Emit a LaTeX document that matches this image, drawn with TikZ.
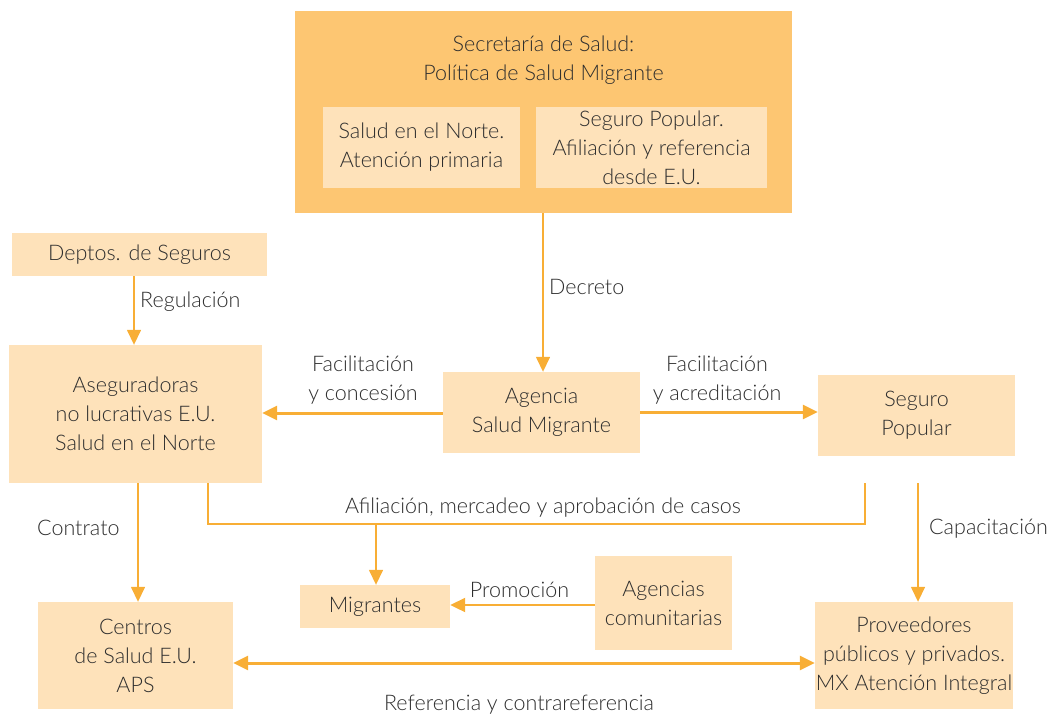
\documentclass[tikz,border=0pt]{standalone}
\usepackage{fontspec}
\setmainfont{Lato}[UprightFont=* Light]
\usetikzlibrary{arrows.meta}
\definecolor{darkbox}{HTML}{FDC672}
\definecolor{lightbox}{HTML}{FEE2BA}
\definecolor{linec}{HTML}{F8AE35}
\definecolor{txt}{HTML}{2E2E2E}
\begin{document}
\begin{tikzpicture}[x=1pt,y=-1pt,
  every node/.style={text=txt,font=\fontsize{21.5}{29}\selectfont,inner sep=0pt},
  box/.style={fill=lightbox,align=center},
  lab/.style={align=center},
  thinc/.style={draw=linec,line width=1.5pt},
  thickc/.style={draw=linec,line width=3pt},
  tip/.style={-{Triangle[length=15pt,width=14pt]}},
]
\useasboundingbox (0,0) rectangle (1051,716);
% top box
\node[fill=darkbox,minimum width=497pt,minimum height=202pt] (sec) at (543.5,112) {};
\node[lab] (sect) at (543.5,60) {Secretaría de Salud:\\Política de Salud Migrante};
\node[box,minimum width=197pt,minimum height=81pt] (in1) at (421.5,147.5) {Salud en el Norte.\\Atención primaria};
\node[box,minimum width=231pt,minimum height=81pt] (in2) at (651.5,147.5) {Seguro Popular.\\Afiliación y referencia\\desde E.U.};
% other boxes
\node[box,minimum width=255pt,minimum height=43pt] (dep) at (139.5,254.5) {Deptos. de Seguros};
\node[box,minimum width=253pt,minimum height=138pt] (ase) at (135.5,414) {Aseguradoras\\no lucrativas E.U.\\Salud en el Norte};
\node[box,minimum width=197pt,minimum height=81pt] (age) at (541.5,412.5) {Agencia\\Salud Migrante};
\node[box,minimum width=197pt,minimum height=81pt] (sp) at (916.5,415.5) {Seguro\\Popular};
\node[box,minimum width=195pt,minimum height=107pt] (cen) at (135.5,655.5) {Centros\\de Salud E.U.\\APS};
\node[box,minimum width=150pt,minimum height=43pt] (mig) at (375,606.5) {Migrantes};
\node[box,minimum width=137pt,minimum height=94pt] (com) at (663.5,603) {Agencias\\comunitarias};
\node[box,minimum width=198pt,minimum height=107pt] (pro) at (914,655.5) {Proveedores\\públicos y privados.\\MX Atención Integral};
% connectors
\draw[thinc,tip] (sec.south -| 543,0) -- (age.north -| 543,0);
\node[anchor=west] (ldec) at (549,287) {Decreto};
\draw[thinc,tip] (dep.south -| 134,0) -- (ase.north -| 134,0);
\node[anchor=west] (lreg) at (140,302) {Regulación};
\draw[thickc,tip] (age.west |- 0,413) -- (ase.east |- 0,413);
\node[lab] (lfc) at (363,380) {Facilitación\\y concesión};
\draw[thickc,tip] (age.east |- 0,412) -- (sp.west |- 0,412);
\node[lab] (lfa) at (717,380) {Facilitación\\y acreditación};
\draw[thinc,tip] (ase.south -| 138,0) -- (cen.north -| 138,0);
\node[anchor=west] (lcon) at (37,528) {Contrato};
\coordinate (c1) at (208,524);
\coordinate (c2) at (865,524);
\coordinate (c3) at (376,524);
\draw[thinc] (ase.south -| c1) -- (c1) -- (c2) -- ([yshift=-27pt]sp.south -| c2);
\draw[thinc,tip] (c3) -- (mig.north -| c3);
\node (laf) at (543,508) {Afiliación, mercadeo y aprobación de casos};
\draw[thinc,tip] ([yshift=-27pt]sp.south -| 918,0) -- (pro.north -| 918,0);
\node[anchor=west] (lcap) at (929,529) {Capacitación};
\draw[draw=linec,line width=2pt,tip] (com.west |- 0,605) -- (mig.east |- 0,605);
\node (lpro) at (519.5,590) {Promoción};
\draw[thickc,{Triangle[length=15pt,width=14pt]}-{Triangle[length=15pt,width=14pt]}] (cen.east |- 0,663) -- (pro.west |- 0,663);
\node (lref) at (519,705) {Referencia y contrareferencia};
\end{tikzpicture}
\end{document}
